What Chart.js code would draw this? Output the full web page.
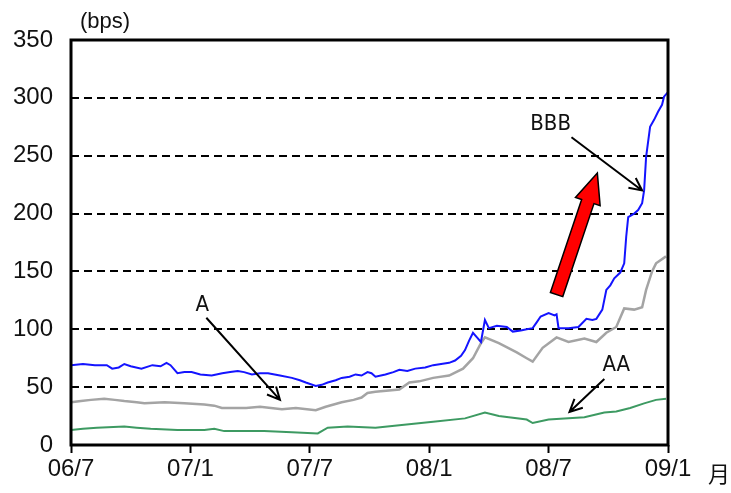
<!DOCTYPE html>
<html>
<head>
<meta charset="utf-8">
<script src="https://cdn.jsdelivr.net/npm/chart.js@4/dist/chart.umd.min.js"></script>
<style>
  body { margin: 0; background: #fff; }
</style>
</head>
<body>
<canvas id="spreadChart" width="731" height="493"></canvas>
<script>
// x values are months counted from 2006/07
const tickLabels = ['06/7', '07/1', '07/7', '08/1', '08/7', '09/1'];
const yTicks = [0, 50, 100, 150, 200, 250, 300, 350];

const bbbMonths = [0, 0.6, 1.2, 1.8, 2.07, 2.4, 2.68, 3.0, 3.54, 4.09, 4.5, 4.8, 5.0, 5.35, 5.7, 6.06, 6.5, 7.07, 7.6, 8.0,
    8.38, 8.7, 9.09, 9.5, 9.9, 10.5, 11.1, 11.5, 11.8, 12.3, 12.6, 12.9, 13.3, 13.6, 14.0, 14.3, 14.6, 14.9, 15.1, 15.3,
    15.8, 16.2, 16.5, 16.9, 17.3, 17.8, 18.2, 18.6, 19.0, 19.3, 19.6, 19.8, 20.0, 20.2, 20.4, 20.6, 20.8, 21.0, 21.4, 21.9,
    22.2, 22.6, 22.9, 23.2, 23.4, 23.6, 24.0, 24.3, 24.4, 24.5, 25.0, 25.5, 25.9, 26.2, 26.4, 26.7, 26.9, 27.1, 27.3, 27.6,
    27.8, 27.9, 28.0, 28.3, 28.5, 28.7, 28.8, 28.9, 29.1, 29.3, 29.5, 29.7, 29.8, 30.0];
const bbbValues = [69, 70, 69, 69, 66, 67, 70, 68, 66, 69, 68, 71, 69, 62, 63, 63, 61, 60, 62, 63,
    64, 63, 61, 62, 62, 60, 58, 56, 54, 51, 52, 54, 56, 58, 59, 61, 60, 63, 62, 59,
    61, 63, 65, 64, 66, 67, 69, 70, 71, 73, 77, 82, 90, 97, 93, 89, 108, 101, 103, 102,
    98, 99, 100, 101, 106, 111, 114, 112, 113, 101, 101, 102, 109, 108, 109, 117, 134, 138, 144, 149,
    157, 180, 197, 200, 203, 209, 220, 249, 275, 281, 288, 294, 301, 305];

const aMonths = [0, 0.5, 1, 1.67, 2.2, 2.68, 3.3, 3.69, 4.7, 5.7, 6.7, 7.2, 7.58, 8.8, 9.5, 10.6, 11.3, 12.3, 12.8, 13.6,
    14.2, 14.6, 14.9, 15.3, 16.5, 17.0, 17.5, 18.2, 19.0, 19.7, 20.2, 20.6, 20.8, 21.5, 22.4, 22.9, 23.2, 23.7, 24.4, 25.0,
    25.8, 26.4, 26.9, 27.4, 27.8, 28.3, 28.7, 28.9, 29.2, 29.4, 29.9];
const aValues = [37, 38, 39, 40, 39, 38, 37, 36, 37, 36, 35, 34, 32, 32, 33, 31, 32, 30, 33, 37,
    39, 41, 45, 46, 48, 54, 55, 58, 60, 66, 75, 88, 93, 88, 80, 75, 72, 84, 93, 89,
    92, 89, 97, 102, 118, 117, 119, 134, 150, 157, 163];

const aaMonths = [0, 0.6, 1.3, 2.68, 3.3, 4.0, 5.35, 6.7, 7.2, 7.7, 9.7, 11.1, 12.4, 12.9, 13.9, 15.3, 16.5, 18.2, 19.8, 20.8,
    21.5, 22.9, 23.2, 24.0, 25.8, 26.8, 27.4, 28.1, 28.8, 29.4, 29.9];
const aaValues = [13, 14, 15, 16, 15, 14, 13, 13, 14, 12, 12, 11, 10, 15, 16, 15, 17, 20, 23, 28,
    25, 22, 19, 22, 24, 28, 29, 32, 36, 39, 40];

const toPoints = (xs, ys) => xs.map((m, i) => ({ x: m, y: ys[i] }));

// label / arrow annotations, in data units (month, bps)
const labelNotes = [
    { text: 'A', at: [6.6, 121], from: [6.8, 110], to: [10.5, 39] },
    { text: 'BBB', at: [24.1, 277], from: [25.15, 266], to: [28.7, 220] },
    { text: 'AA', at: [27.4, 69], from: [26.8, 57], to: [25.05, 28.5] },
];
const redArrow = { from: [24.4, 130], to: [26.45, 235] };

const annotationPlugin = {
    id: 'annotations',
    afterDatasetsDraw(chart) {
        const ctx = chart.ctx;
        const xs = chart.scales.x, ys = chart.scales.y;
        const px = (p) => [xs.getPixelForValue(p[0]), ys.getPixelForValue(p[1])];
        ctx.save();

        // frame around plot area
        const area = chart.chartArea;
        ctx.strokeStyle = '#000';
        ctx.lineWidth = 3;
        ctx.setLineDash([]);
        ctx.strokeRect(area.left, area.top, area.right - area.left, area.bottom - area.top);

        // black arrows + labels
        labelNotes.forEach((n) => {
            const [x1, y1] = px(n.from);
            const [x2, y2] = px(n.to);
            ctx.strokeStyle = '#000';
            ctx.lineWidth = 2;
            ctx.beginPath();
            ctx.moveTo(x1, y1);
            ctx.lineTo(x2, y2);
            const ang = Math.atan2(y2 - y1, x2 - x1);
            const len = 14;
            ctx.moveTo(x2 - len * Math.cos(ang - 0.45), y2 - len * Math.sin(ang - 0.45));
            ctx.lineTo(x2, y2);
            ctx.lineTo(x2 - len * Math.cos(ang + 0.45), y2 - len * Math.sin(ang + 0.45));
            ctx.stroke();

            const [tx, ty] = px(n.at);
            ctx.fillStyle = '#111';
            ctx.font = '22px "Liberation Sans Narrow", "DejaVu Sans Condensed", Arial, sans-serif';
            ctx.textAlign = 'center';
            ctx.textBaseline = 'middle';
            ctx.fillText(n.text, tx, ty);
        });

        // red block arrow
        const [bx, by] = px(redArrow.from);
        const [tx, ty] = px(redArrow.to);
        const ang = Math.atan2(ty - by, tx - bx);
        const total = Math.hypot(tx - bx, ty - by);
        const headLen = 30, shaftHalf = 6.5, headHalf = 13;
        const ux = Math.cos(ang), uy = Math.sin(ang);
        const nx = -uy, ny = ux;
        const hx = bx + ux * (total - headLen), hy = by + uy * (total - headLen);
        ctx.beginPath();
        ctx.moveTo(bx + nx * shaftHalf, by + ny * shaftHalf);
        ctx.lineTo(hx + nx * shaftHalf, hy + ny * shaftHalf);
        ctx.lineTo(hx + nx * headHalf, hy + ny * headHalf);
        ctx.lineTo(tx, ty);
        ctx.lineTo(hx - nx * headHalf, hy - ny * headHalf);
        ctx.lineTo(hx - nx * shaftHalf, hy - ny * shaftHalf);
        ctx.lineTo(bx - nx * shaftHalf, by - ny * shaftHalf);
        ctx.closePath();
        ctx.fillStyle = '#ff0000';
        ctx.fill();
        ctx.strokeStyle = '#000';
        ctx.lineWidth = 1.5;
        ctx.stroke();

        // unit labels
        ctx.fillStyle = '#111';
        ctx.textBaseline = 'middle';
        ctx.textAlign = 'left';
        ctx.font = '22px "Liberation Sans", Arial, sans-serif';
        ctx.fillText('(bps)', 80, 22);
        ctx.font = '22px "Noto Sans CJK JP", sans-serif';
        ctx.fillText('月', 708, 474);

        ctx.restore();
    },
};

new Chart(document.getElementById('spreadChart'), {
    type: 'line',
    data: {
        datasets: [
            { label: 'BBB', data: toPoints(bbbMonths, bbbValues), borderColor: '#1414ff', borderWidth: 2 },
            { label: 'A', data: toPoints(aMonths, aValues), borderColor: '#a4a4a4', borderWidth: 2.5 },
            { label: 'AA', data: toPoints(aaMonths, aaValues), borderColor: '#3d9a62', borderWidth: 2 },
        ],
    },
    options: {
        responsive: false,
        animation: false,
        elements: { point: { radius: 0 }, line: { tension: 0 } },
        layout: { padding: { top: 40, right: 63, left: 0, bottom: 0 } },
        plugins: { legend: { display: false }, tooltip: { enabled: false } },
        scales: {
            x: {
                type: 'linear',
                min: 0,
                max: 30,
                afterFit: (scale) => { scale.height = 48; },
                afterBuildTicks: (scale) => { scale.ticks = tickLabels.map((_, i) => ({ value: i * 6 })); },
                ticks: {
                    callback: (v) => tickLabels[v / 6],
                    color: '#111',
                    font: { size: 24, family: '"Liberation Sans", Arial, sans-serif' },
                    padding: 2,
                    maxRotation: 0,
                    autoSkip: false,
                },
                grid: { drawOnChartArea: false, drawTicks: true, tickLength: 8, tickColor: '#000', tickWidth: 2 },
                border: { display: false },
            },
            y: {
                min: 0,
                max: 350,
                afterFit: (scale) => { scale.width = 71; },
                afterBuildTicks: (scale) => { scale.ticks = yTicks.map((v) => ({ value: v })); },
                ticks: {
                    color: '#111',
                    font: { size: 24, family: '"Liberation Sans", Arial, sans-serif' },
                    padding: 18,
                },
                grid: {
                    drawTicks: false,
                    lineWidth: 2,
                    color: (c) => (c.tick && (c.tick.value === 0 || c.tick.value === 350) ? 'rgba(0,0,0,0)' : '#000'),
                },
                border: { display: false, dash: [8, 5] },
            },
        },
    },
    plugins: [annotationPlugin],
});
</script>
</body>
</html>
